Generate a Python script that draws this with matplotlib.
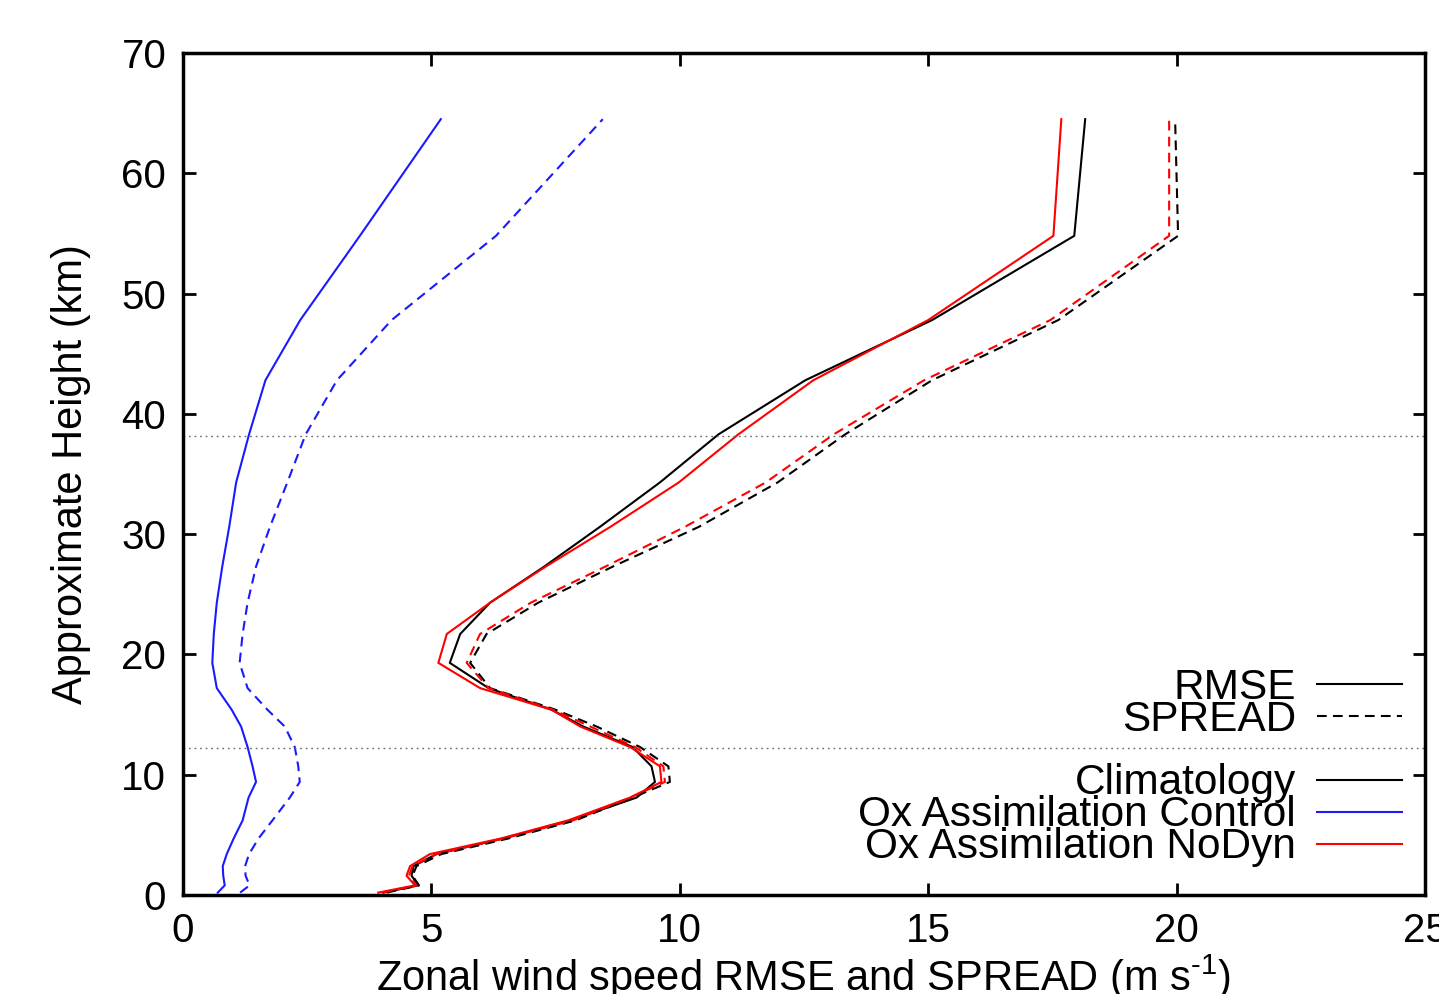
import matplotlib
matplotlib.use("Agg")
import matplotlib.pyplot as plt
from matplotlib.lines import Line2D

plt.rcParams['font.family'] = ['Liberation Sans', 'DejaVu Sans']
plt.rcParams['mathtext.fontset'] = 'custom'
plt.rcParams['mathtext.rm'] = 'Liberation Sans'
plt.rcParams['lines.scale_dashes'] = False

# Approximate model level heights (km)
heights = [0.2, 0.8, 1.6, 2.4, 3.4, 4.7, 6.2, 8.1, 9.4, 10.7, 12.3, 14.0, 15.4,
           17.2, 19.3, 21.7, 24.3, 27.3, 30.6, 34.3, 38.3, 42.8, 47.8, 54.8, 64.5]

clim_rmse = [4.03, 4.74, 4.60, 4.64, 5.10, 6.45, 7.79, 9.13, 9.50, 9.43, 9.05, 8.06, 7.42,
             6.15, 5.37, 5.58, 6.18, 7.27, 8.39, 9.60, 10.78, 12.53, 15.08, 17.94, 18.16]
clim_spread = [4.10, 4.75, 4.62, 4.70, 5.20, 6.55, 7.90, 9.05, 9.80, 9.77, 9.20, 8.33, 7.50,
               6.18, 5.78, 6.11, 7.15, 8.65, 10.38, 11.97, 13.33, 15.08, 17.62, 20.03, 19.97]
ctrl_rmse = [0.70, 0.84, 0.81, 0.80, 0.88, 1.02, 1.20, 1.32, 1.47, 1.40, 1.30, 1.17, 0.98,
             0.68, 0.59, 0.62, 0.68, 0.79, 0.93, 1.07, 1.33, 1.66, 2.36, 3.56, 5.19]
ctrl_spread = [1.15, 1.34, 1.26, 1.25, 1.33, 1.52, 1.80, 2.15, 2.35, 2.32, 2.25, 2.05, 1.70,
               1.30, 1.14, 1.20, 1.30, 1.47, 1.75, 2.10, 2.47, 3.10, 4.20, 6.30, 8.45]
nodyn_rmse = [3.93, 4.67, 4.50, 4.57, 4.97, 6.40, 7.75, 9.00, 9.63, 9.60, 9.00, 8.00, 7.42,
              5.98, 5.14, 5.31, 6.18, 7.30, 8.60, 9.98, 11.18, 12.69, 15.00, 17.52, 17.68]
nodyn_spread = [4.00, 4.70, 4.55, 4.62, 5.10, 6.45, 7.85, 9.00, 9.70, 9.67, 9.10, 8.20, 7.45,
                6.15, 5.71, 5.98, 7.00, 8.50, 10.10, 11.73, 13.10, 14.92, 17.46, 19.85, 19.85]

ref_heights = [38.2, 12.2]

x_ticks = [0, 5, 10, 15, 20, 25]
y_ticks = [0, 10, 20, 30, 40, 50, 60, 70]

fig = plt.figure(figsize=(14.39, 9.94), dpi=100)
ax = fig.add_axes([183/1439, 99/994, 1242/1439, 842/994])

lw = 1.5
dash = (7, 4.5)
for xr, xs, col in [(clim_rmse, clim_spread, 'black'),
                    (ctrl_rmse, ctrl_spread, '#1a1aff'),
                    (nodyn_rmse, nodyn_spread, '#ff0000')]:
    ax.plot(xr, heights, color=col, lw=lw)
    ax.plot(xs, heights, color=col, lw=lw, ls=(0, dash))

for h in ref_heights:
    ax.axhline(h, color='#666666', lw=1.0, ls=(0, (1.2, 2.8)))

ax.set_xlim(0, 25)
ax.set_ylim(0, 70)
ax.set_xticks(x_ticks)
ax.set_yticks(y_ticks)
ax.tick_params(direction='in', length=9, width=2, labelsize=29, pad=12,
               top=True, right=True)
for s in ax.spines.values():
    s.set_linewidth(2.5)

ax.set_xlabel('Zonal wind speed RMSE and SPREAD (m s$^{\\mathregular{\u2010}1}$)', fontsize=30)
ax.set_ylabel('Approximate Height (km)', fontsize=30)
ax.xaxis.set_label_coords(0.5, -0.068)
ax.yaxis.set_label_coords(-0.074, 0.5)

legkw = dict(loc='upper right', frameon=False, markerfirst=False, fontsize=30.5,
             handlelength=2.0, handletextpad=0.5, labelspacing=-0.19,
             borderaxespad=0, borderpad=0)
h1 = [Line2D([], [], color='black', lw=lw), Line2D([], [], color='black', lw=lw, ls=(0, dash))]
leg1 = ax.legend(h1, ['RMSE', 'SPREAD'], bbox_to_anchor=(0.9815, 0.2696), **legkw)
ax.add_artist(leg1)
h2 = [Line2D([], [], color='black', lw=lw), Line2D([], [], color='#1a1aff', lw=lw),
      Line2D([], [], color='#ff0000', lw=lw)]
ax.legend(h2, ['Climatology', 'Ox Assimilation Control', 'Ox Assimilation NoDyn'],
          bbox_to_anchor=(0.9815, 0.1562), **legkw)

fig.savefig('out.png', dpi=100)
